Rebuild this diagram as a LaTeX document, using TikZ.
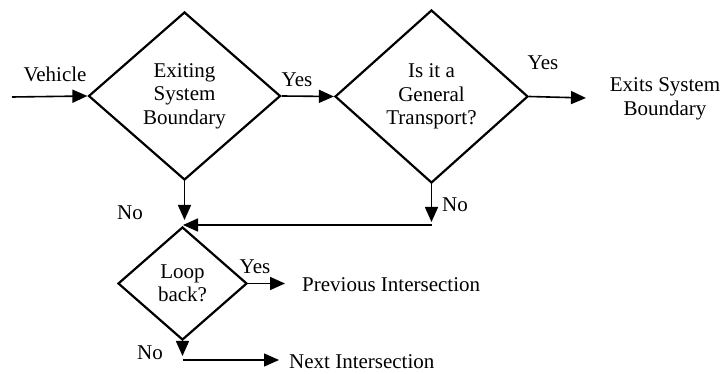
\documentclass[tikz,border=0pt]{standalone}
\usepackage{fontspec}
\setmainfont{Liberation Serif}
\usetikzlibrary{shapes.geometric,arrows.meta}
\begin{document}
\begin{tikzpicture}[x=1pt,y=-1pt,
  every node/.style={font=\fontsize{21}{23.5}\selectfont, inner sep=0pt},
  decision/.style={diamond, draw, line width=2.2pt, align=center, inner sep=0pt},
  conn/.style={line width=1.6pt, -{Triangle[length=15pt,width=13pt]}},
  lbl/.style={anchor=center}]
\useasboundingbox (0,0) rectangle (721,374);

% decisions
\node[decision, minimum width=192pt, minimum height=168pt] (d1) at (184.5,96) {Exiting\\System\\Boundary};
\node[decision, minimum width=193pt, minimum height=173pt] (d2) at (431.5,96.5) {Is it a\\General\\Transport?};
\node[decision, minimum width=129pt, minimum height=113pt] (d3) at (182.5,283.5) {Loop\\back?};

% end texts
\node[align=center] (exit) at (665,99) {Exits System\\Boundary};
\node[anchor=west] (prev) at (302,285) {Previous Intersection};
\node[anchor=west] (next) at (289,362) {Next Intersection};

% coordinates
\coordinate (start) at (12,97);
\coordinate (e2) at (586,98);
\coordinate (j1) at (184.5,220);
\coordinate (j2) at (431.5,222);
\coordinate (h2) at (431.5,225);
\coordinate (h1) at (183,225);
\coordinate (p3) at (285,283.5);
\coordinate (n3) at (182.5,356);
\coordinate (n4) at (183,360);
\coordinate (n5) at (279,360);

% connectors
\draw[conn] (start) -- (d1.west);
\draw[conn] (d1.east) -- (d2.west);
\draw[conn] (d2.east) -- (e2);
\draw[conn] (d1.south) -- (j1);
\draw[conn] (d2.south) -- (j2);
\draw[conn] (h2) -- (h1);
\draw[conn] (d3.east) -- (p3);
\draw[conn] (d3.south) -- (n3);
\draw[conn] (n4) -- (n5);

% labels
\node[lbl] (lv) at (55,74) {Vehicle};
\node[lbl] (ly1) at (297,80) {Yes};
\node[lbl] (ly2) at (543,63) {Yes};
\node[lbl] (ln1) at (130,213) {No};
\node[lbl] (ln2) at (455,205) {No};
\node[lbl] (ly3) at (255,267) {Yes};
\node[lbl] (ln3) at (150,353) {No};
\end{tikzpicture}
\end{document}
